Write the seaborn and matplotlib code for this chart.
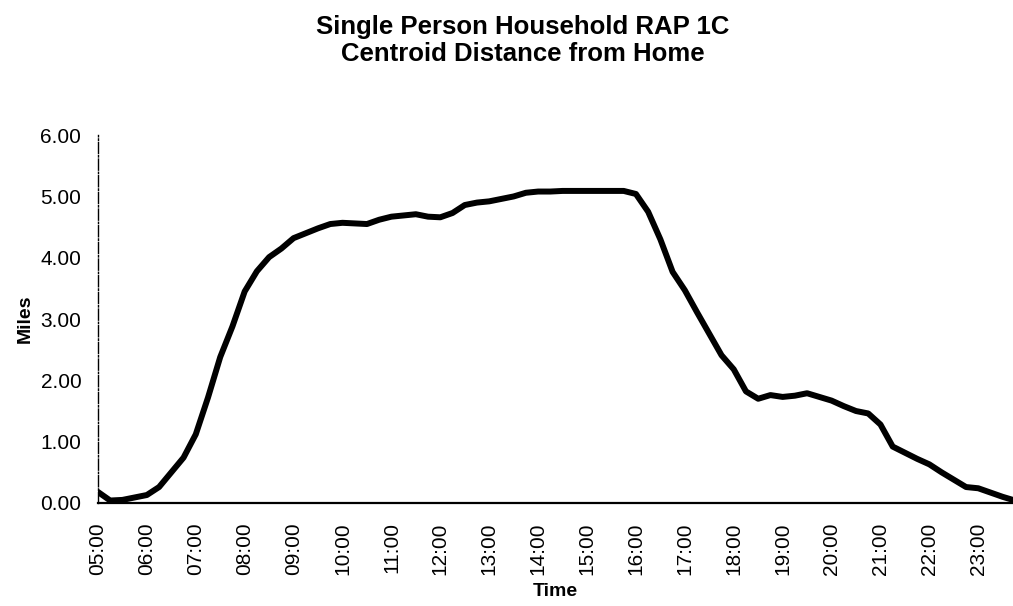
import seaborn as sns
import pandas as pd
import matplotlib.pyplot as plt

# hours of the day (15 min steps) and centroid distance in miles
hours = [5.0, 5.25, 5.5, 5.75, 6.0, 6.25, 6.5, 6.75, 7.0, 7.25, 7.5, 7.75,
         8.0, 8.25, 8.5, 8.75, 9.0, 9.25, 9.5, 9.75, 10.0, 10.25, 10.5, 10.75,
         11.0, 11.25, 11.5, 11.75, 12.0, 12.25, 12.5, 12.75, 13.0, 13.25, 13.5, 13.75,
         14.0, 14.25, 14.5, 14.75, 15.0, 15.25, 15.5, 15.75, 16.0, 16.25, 16.5, 16.75,
         17.0, 17.25, 17.5, 17.75, 18.0, 18.25, 18.5, 18.75, 19.0, 19.25, 19.5, 19.75,
         20.0, 20.25, 20.5, 20.75, 21.0, 21.25, 21.5, 21.75, 22.0, 22.25, 22.5, 22.75,
         23.0, 23.25, 23.5, 23.75]
miles = [0.18, 0.04, 0.05, 0.09, 0.13, 0.26, 0.50, 0.74, 1.12, 1.72, 2.38, 2.88,
         3.45, 3.78, 4.01, 4.15, 4.32, 4.40, 4.48, 4.55, 4.57, 4.56, 4.55, 4.62,
         4.67, 4.69, 4.71, 4.67, 4.66, 4.73, 4.86, 4.90, 4.92, 4.96, 5.00, 5.06,
         5.08, 5.08, 5.09, 5.09, 5.09, 5.09, 5.09, 5.09, 5.04, 4.75, 4.30, 3.77,
         3.47, 3.11, 2.76, 2.41, 2.18, 1.82, 1.70, 1.76, 1.73, 1.75, 1.79, 1.73,
         1.67, 1.58, 1.50, 1.46, 1.28, 0.92, 0.82, 0.72, 0.63, 0.50, 0.38, 0.26,
         0.24, 0.17, 0.10, 0.04]
tick_hours = list(range(5, 24))
tick_labels = ["%02d:00" % h for h in tick_hours]

df = pd.DataFrame({'hour': hours, 'miles': miles})

sns.set_style("white")
plt.rcParams['font.family'] = ['Liberation Sans', 'DejaVu Sans']
plt.rcParams['text.color'] = 'black'
plt.rcParams['axes.labelcolor'] = 'black'

fig = plt.figure(figsize=(10.13, 6.06), dpi=100)
ax = fig.add_axes([0.0967, 0.170, 0.9033, 0.607])
sns.lineplot(x='hour', y='miles', data=df, color='black', linewidth=4.3, ax=ax)
ax.lines[0].set_solid_joinstyle('round')
ax.lines[0].set_solid_capstyle('round')

ax.set_xlim(5, 23.71)
ax.set_ylim(0, 6)
ax.set_yticks([0, 1, 2, 3, 4, 5, 6])
ax.set_yticklabels(["%.2f" % v for v in range(7)])
ax.set_xticks(tick_hours)
ax.set_xticklabels(tick_labels, rotation=90)
ax.tick_params(axis='both', direction='in', length=5, width=1, colors='black', labelsize=15)
ax.tick_params(axis='y', pad=12)
ax.tick_params(axis='x', pad=14)

for s in ['top', 'right']:
    ax.spines[s].set_visible(False)
ax.spines['left'].set_color('black')
ax.spines['left'].set_linewidth(1)
ax.spines['left'].set_linestyle((0, (8, 1.5, 1, 1.5)))
ax.spines['bottom'].set_color('black')
ax.spines['bottom'].set_linewidth(1.6)

ax.set_xlabel('Time', fontsize=14, fontweight='bold', labelpad=6)
ax.set_ylabel('Miles', fontsize=14, fontweight='bold', labelpad=5)
fig.suptitle('Single Person Household RAP 1C\nCentroid Distance from Home',
             x=0.516, y=0.975, fontsize=18.5, fontweight='bold', linespacing=1.15,
             color='black')

fig.savefig('out.png', dpi=100)
